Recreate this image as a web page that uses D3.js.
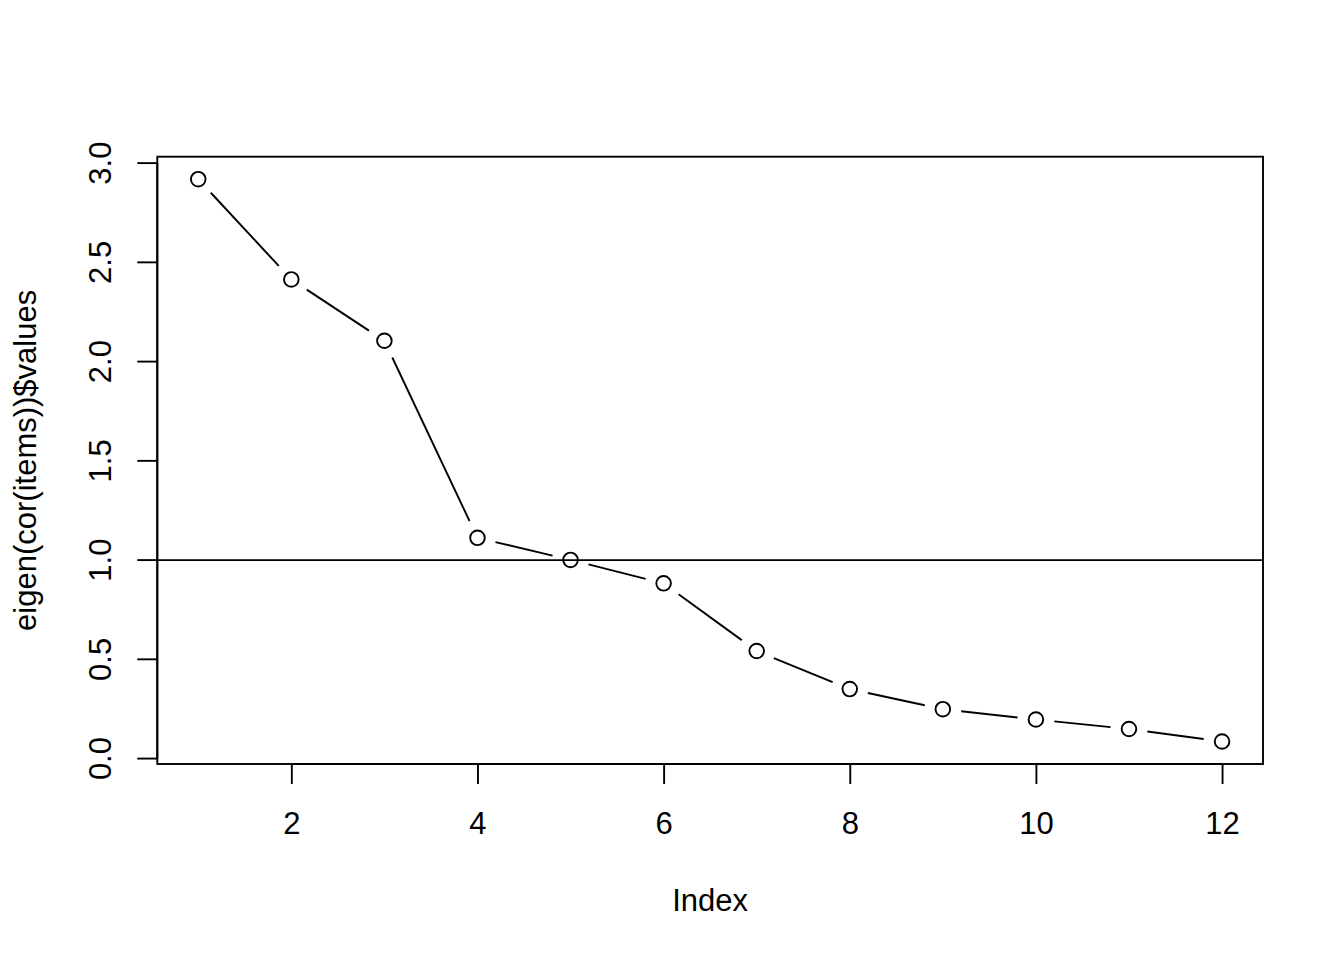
<!DOCTYPE html>
<html><head><meta charset="utf-8">
<script src="https://cdn.jsdelivr.net/npm/d3@7"></script>
<style>body{margin:0;background:#fff}svg{display:block}text{font-family:"Liberation Sans",Arial,sans-serif;fill:#000}</style>
</head><body>
<svg id="c" width="1344" height="960"></svg>
<script>
const index = [1,2,3,4,5,6,7,8,9,10,11,12];
const values = [2.919,2.414,2.105,1.112,1.001,0.883,0.542,0.350,0.249,0.197,0.149,0.086];
const xTicks = [2,4,6,8,10,12];
const yTicks = [0,0.5,1,1.5,2,2.5,3];
const refLine = 1.0;
const xTitle = "Index";
const yTitle = "eigen(cor(items))$values";

const svg = d3.select("#c");
const L=157.3,R=1263,T=156.7,B=764;
const fs=31;
const xr = 11*0.04, yr=(d3.max(values)-d3.min(values))*0.04;
const x = d3.scaleLinear().domain([1-xr,12+xr]).range([L,R]);
const y = d3.scaleLinear().domain([d3.min(values)-yr,d3.max(values)+yr]).range([B,T]);
const sw=1.9;
svg.append("rect").attr("x",L).attr("y",T).attr("width",R-L).attr("height",B-T)
  .attr("fill","none").attr("stroke","#000").attr("stroke-width",sw);
const xa = svg.append("g").attr("transform",`translate(0,${B})`)
  .call(d3.axisBottom(x).tickValues(xTicks).tickSize(20).tickPadding(26).tickFormat(d3.format("d")));
const ya = svg.append("g").attr("transform",`translate(${L},0)`)
  .call(d3.axisLeft(y).tickValues(yTicks).tickSize(20).tickFormat(d3.format(".1f")));
xa.select(".domain").attr("d",`M${x(2)},0H${x(12)}`);
ya.select(".domain").attr("d",`M0,${y(0)}V${y(3)}`);
[xa,ya].forEach(g=>{g.selectAll("path,line").attr("stroke","#000").attr("stroke-width",sw);
  g.selectAll("text").attr("font-size",fs).attr("font-family","Liberation Sans, Arial, sans-serif").attr("fill","#000");});
xa.selectAll(".tick text").attr("dy","0.71em").attr("y",48);
ya.selectAll(".tick text").attr("text-anchor","middle").attr("dy",0)
  .attr("transform",function(d){return `translate(-57,${y(d)}) rotate(-90)`;}).attr("x",0).attr("y",11);
ya.selectAll(".tick").attr("transform",null);
ya.selectAll(".tick line").attr("transform",d=>`translate(0,${y(d)})`);
svg.append("line").attr("x1",L).attr("x2",R).attr("y1",y(refLine)).attr("y2",y(refLine))
  .attr("stroke","#000").attr("stroke-width",sw);
const gap=18.5;
for(let i=0;i<index.length-1;i++){
  const x1=x(index[i]),y1=y(values[i]),x2=x(index[i+1]),y2=y(values[i+1]);
  const dx=x2-x1,dy=y2-y1,d=Math.hypot(dx,dy);
  if(d>2*gap){
    const ux=dx/d,uy=dy/d;
    svg.append("line").attr("x1",x1+ux*gap).attr("y1",y1+uy*gap).attr("x2",x2-ux*gap).attr("y2",y2-uy*gap)
      .attr("stroke","#000").attr("stroke-width",sw);
  }
}
svg.append("g").selectAll("circle").data(index).join("circle")
  .attr("cx",d=>x(d)).attr("cy",(d,i)=>y(values[i])).attr("r",7.3)
  .attr("fill","none").attr("stroke","#000").attr("stroke-width",sw);
svg.append("text").attr("x",(L+R)/2).attr("y",911).attr("text-anchor","middle").attr("font-size",fs).text(xTitle);
svg.append("text").attr("transform",`translate(36,${(T+B)/2}) rotate(-90)`).attr("text-anchor","middle").attr("font-size",fs).text(yTitle);
</script>
</body></html>
